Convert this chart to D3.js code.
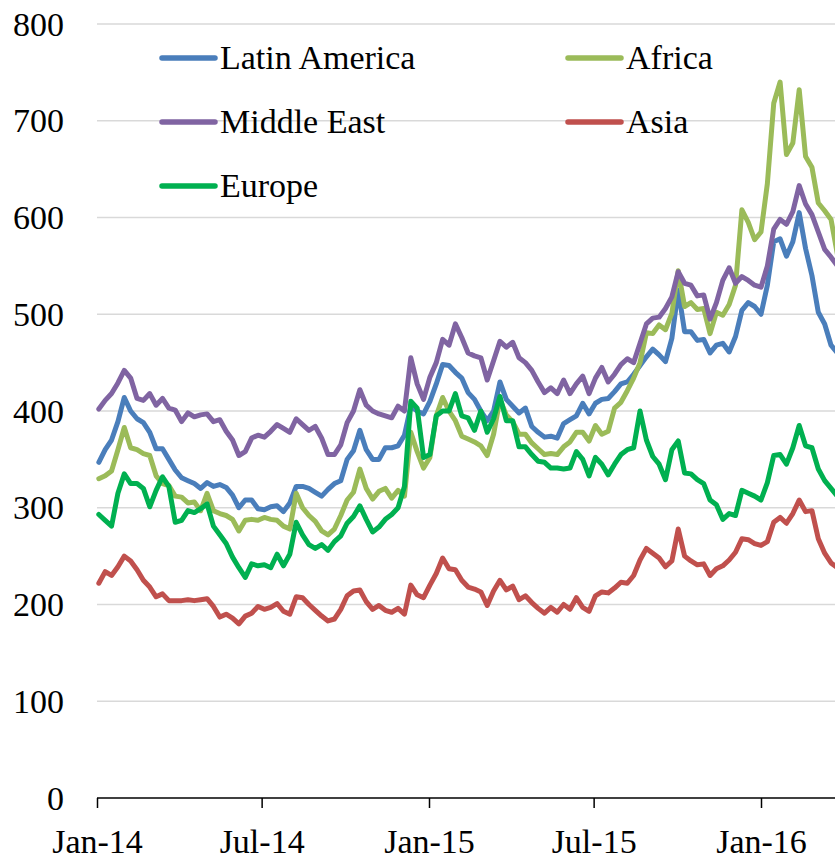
<!DOCTYPE html>
<html>
<head>
<meta charset="utf-8">
<script src="https://cdn.jsdelivr.net/npm/d3@7"></script>
<style>
  body { margin: 0; background: #fff; }
  svg { display: block; font-family: "Liberation Serif", "DejaVu Serif", serif; }
</style>
</head>
<body>
<div class="box"></div>
<script>
// weekly readings, first week ending 3 Jan 2014
var firstWeek = new Date(2014, 0, 3);

var latinAmerica = [347,360,370,389,414,400,392,388,378,361,361,350,339,331,328,325,320,326,322,324,
  321,313,300,308,308,299,298,301,302,296,305,322,322,320,316,312,319,325,328,350,
  359,380,360,350,350,362,362,364,375,405,400,397,410,428,448,447,440,434,419,412,
  400,390,400,430,412,405,398,403,384,378,373,374,372,387,391,395,408,397,408,412,
  413,420,428,430,438,447,456,464,458,451,475,525,482,482,473,474,460,468,470,461,
  477,504,512,508,500,530,575,578,560,575,605,568,540,502,490,468,460];

var africa = [330,333,338,360,383,362,360,356,354,333,325,323,312,311,305,306,297,315,297,294,
  292,288,276,287,288,287,290,288,287,281,278,315,300,292,286,276,272,278,292,308,
  316,340,320,309,317,320,310,318,312,378,358,341,352,395,414,400,390,374,371,368,
  364,354,376,412,396,389,376,376,367,361,355,356,355,363,368,378,378,369,385,376,
  379,403,409,421,434,450,481,480,489,484,501,545,508,512,505,506,480,502,499,510,
  530,608,595,577,585,635,718,740,665,677,732,663,652,615,607,598,562];

var middleEast = [402,411,418,429,442,434,413,411,418,406,413,403,401,389,398,394,396,397,389,391,
  379,370,354,358,372,375,373,379,386,382,378,392,386,380,384,372,355,355,365,388,
  400,422,406,400,397,395,393,405,400,455,428,412,435,450,474,468,490,476,460,457,
  455,432,452,472,466,471,455,450,442,430,419,424,418,432,418,428,436,418,434,445,
  430,438,448,454,450,470,490,496,497,506,518,544,532,530,519,520,495,512,535,548,
  532,539,535,530,528,550,588,598,593,606,633,614,603,585,567,559,550];

var asia = [222,234,230,239,250,245,236,225,218,208,211,204,204,204,205,204,205,206,198,187,
  190,186,180,188,191,198,195,197,201,193,190,208,207,200,194,188,183,185,195,209,
  214,215,203,195,199,194,192,196,190,220,210,207,220,232,248,237,236,225,218,216,
  213,199,214,225,215,219,205,209,202,196,191,197,192,200,195,207,197,193,209,213,
  212,217,223,222,230,246,258,253,248,239,245,278,250,245,241,242,230,237,240,246,
  254,268,267,263,261,265,285,290,284,294,308,296,297,268,253,243,238];

var europe = [293,287,281,315,335,325,325,320,301,318,332,322,285,287,297,295,299,304,281,272,
  263,249,238,228,242,240,241,238,252,240,252,285,272,262,258,262,256,265,271,284,
  291,302,288,275,280,288,293,300,322,410,403,352,355,395,400,400,418,395,393,380,
  400,378,392,415,390,390,363,363,355,348,347,341,341,340,341,358,350,333,352,345,
  334,345,355,360,362,400,370,353,345,329,360,369,336,335,329,325,308,303,288,294,
  292,318,315,312,308,326,354,355,345,362,385,364,362,340,328,320,312];

var seriesNames = ["Latin America", "Africa", "Middle East", "Asia", "Europe"];
var seriesColors = ["#4a7ebb", "#9bbb59", "#8064a2", "#c0504d", "#00b050"];
var seriesValues = [latinAmerica, africa, middleEast, asia, europe];

var yTicks = [0, 100, 200, 300, 400, 500, 600, 700, 800];
var xTicks = [new Date(2014, 0, 1), new Date(2014, 6, 1), new Date(2015, 0, 1),
              new Date(2015, 6, 1), new Date(2016, 0, 1)];
var xTickLabels = ["Jan-14", "Jul-14", "Jan-15", "Jul-15", "Jan-16"];

var width = 835, height = 861;
var margin = { top: 24, right: 0, bottom: 63, left: 97 };
var plotBottom = height - margin.bottom;

var x = d3.scaleTime()
    .domain([new Date(2014, 0, 1), new Date(2016, 0, 1)])
    .range([margin.left, 761]);
var y = d3.scaleLinear().domain([0, 800]).range([plotBottom, margin.top]);

var svg = d3.create("svg")
    .attr("width", width)
    .attr("height", height)
    .attr("viewBox", [0, 0, width, height]);

// gridlines
svg.append("g")
    .selectAll("line")
    .data(yTicks.filter(d => d > 0))
    .join("line")
    .attr("x1", margin.left)
    .attr("x2", width - margin.right)
    .attr("y1", d => y(d))
    .attr("y2", d => y(d))
    .attr("stroke", "#d9d9d9")
    .attr("stroke-width", 1.5);

// y labels
svg.append("g")
    .attr("transform", `translate(${margin.left - 33},0)`)
    .call(d3.axisLeft(y).tickValues(yTicks).tickSize(0).tickPadding(0))
    .call(g => g.select(".domain").remove())
    .call(g => g.selectAll("text")
        .attr("font-family", "Liberation Serif, serif")
        .attr("font-size", 34)
        .attr("fill", "#000")
        .attr("text-anchor", "end")
        .attr("dy", "0.33em"));

// lines
var line = d3.line()
    .x((d, i) => x(d3.timeDay.offset(firstWeek, 7 * i)))
    .y(d => y(d));

svg.append("g")
    .attr("fill", "none")
    .attr("stroke-width", 5)
    .attr("stroke-linejoin", "round")
    .attr("stroke-linecap", "round")
    .selectAll("path")
    .data(seriesValues)
    .join("path")
    .attr("stroke", (d, i) => seriesColors[i])
    .attr("d", d => line(d));

// x axis
var xAxis = svg.append("g")
    .attr("transform", `translate(0,${plotBottom})`)
    .call(d3.axisBottom(x).tickValues(xTicks).tickSize(10).tickPadding(21)
        .tickFormat((d, i) => xTickLabels[i]));
xAxis.select(".domain").remove();
xAxis.append("line")
    .attr("x1", margin.left).attr("x2", width - margin.right)
    .attr("stroke", "#000").attr("stroke-width", 1.5);
xAxis.selectAll(".tick line").attr("stroke", "#000").attr("stroke-width", 1.5);
xAxis.selectAll("text")
    .attr("font-family", "Liberation Serif, serif")
    .attr("font-size", 34)
    .attr("fill", "#000");

// legend
var legendPos = [[162, 58], [568, 58], [162, 122], [568, 122], [162, 186]];
var legend = svg.append("g")
    .selectAll("g")
    .data(seriesNames)
    .join("g")
    .attr("transform", (d, i) => `translate(${legendPos[i][0]},${legendPos[i][1]})`);
legend.append("line")
    .attr("x1", 0).attr("x2", 53)
    .attr("stroke", (d, i) => seriesColors[i])
    .attr("stroke-width", 5.5)
    .attr("stroke-linecap", "round");
legend.append("text")
    .attr("x", 58)
    .attr("dy", "0.33em")
    .attr("font-size", 34)
    .attr("fill", "#000")
    .text(d => d);

document.querySelector(".box").appendChild(svg.node());
</script>
</body>
</html>
